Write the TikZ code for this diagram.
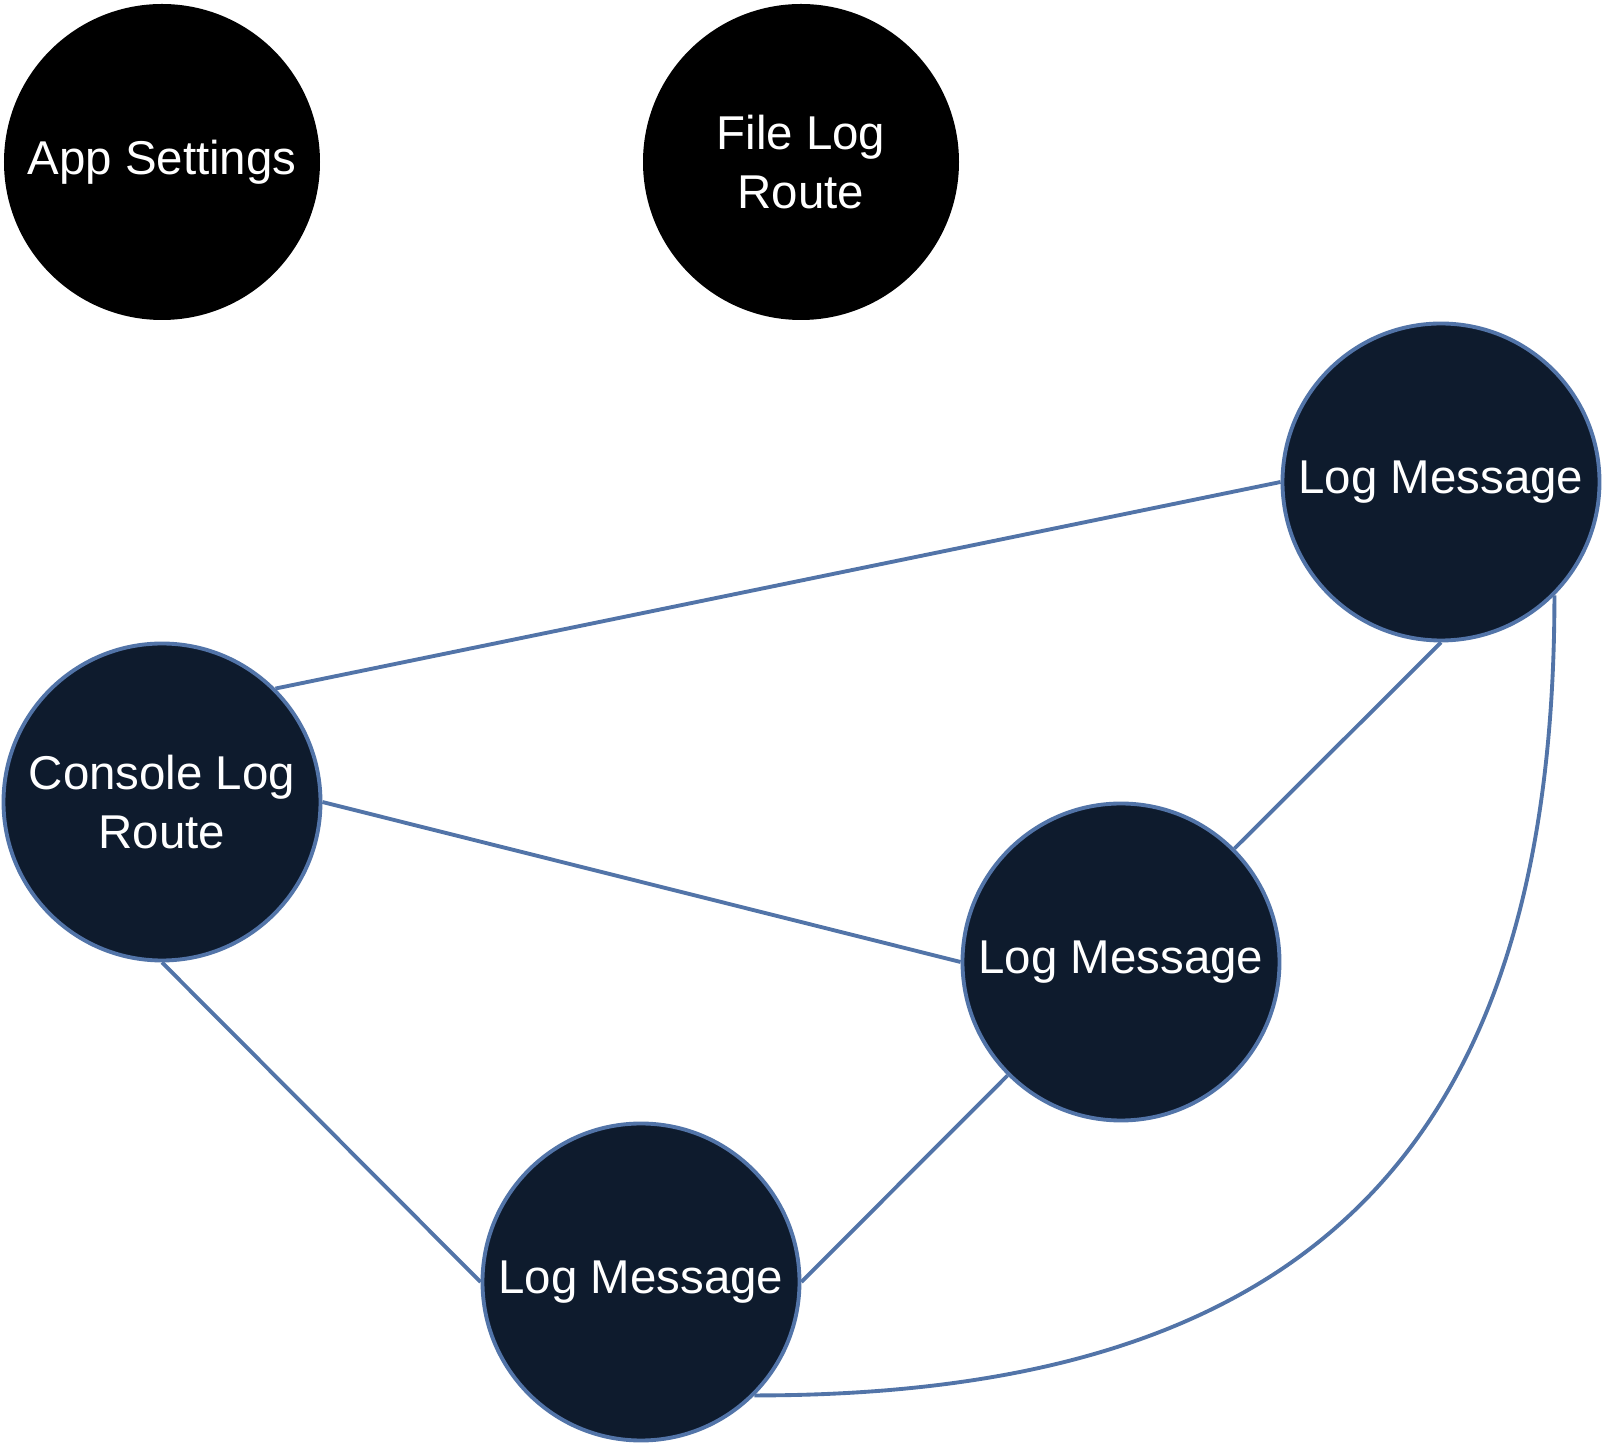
\documentclass[tikz,border=0pt]{standalone}
\usepackage{fontspec}
\setmainfont{Liberation Sans}
\usepackage{xcolor}
\usetikzlibrary{positioning}
\definecolor{msgfill}{RGB}{14,27,45}
\definecolor{linkblue}{RGB}{82,116,168}
\tikzset{
  setting/.style={circle, fill=black, draw=none, minimum size=3.16cm, inner sep=0pt,
    align=center, text=white, font=\fontsize{13.5pt}{16.8pt}\selectfont},
  msgnode/.style={circle, fill=msgfill, draw=linkblue, line width=1.1pt, minimum size=3.17cm,
    inner sep=0pt, align=center, text=white, font=\fontsize{13.5pt}{16.8pt}\selectfont},
  link/.style={draw=linkblue, line width=1.1pt}
}

\begin{document}
\begin{tikzpicture}
  \useasboundingbox (0,0) rectangle (16.04,-14.44);
  \node[setting] (app) at (1.62,-1.62) {App Settings};
  \node[setting] (filelog) at (8.01,-1.62) {File Log\\Route};
  \node[msgnode] (console) at (1.62,-8.02) {Console Log\\Route};
  \node[msgnode] (msgtop) at (14.41,-4.82) {Log Message};
  \node[msgnode] (msgmid) at (11.21,-9.62) {Log Message};
  \node[msgnode] (msgbot) at (6.41,-12.82) {Log Message};

  \draw[link] (console.north east) -- (msgtop.west);
  \draw[link] (console.east) -- (msgmid.west);
  \draw[link] (console.south) -- (msgbot.west);
  \draw[link] (msgbot.east) -- (msgmid.south west);
  \draw[link] (msgmid.north east) -- (msgtop.south);
  \draw[link] (msgtop.south east) to[out=-90, in=0, looseness=1.25] (msgbot.south east);
\end{tikzpicture}
\end{document}
